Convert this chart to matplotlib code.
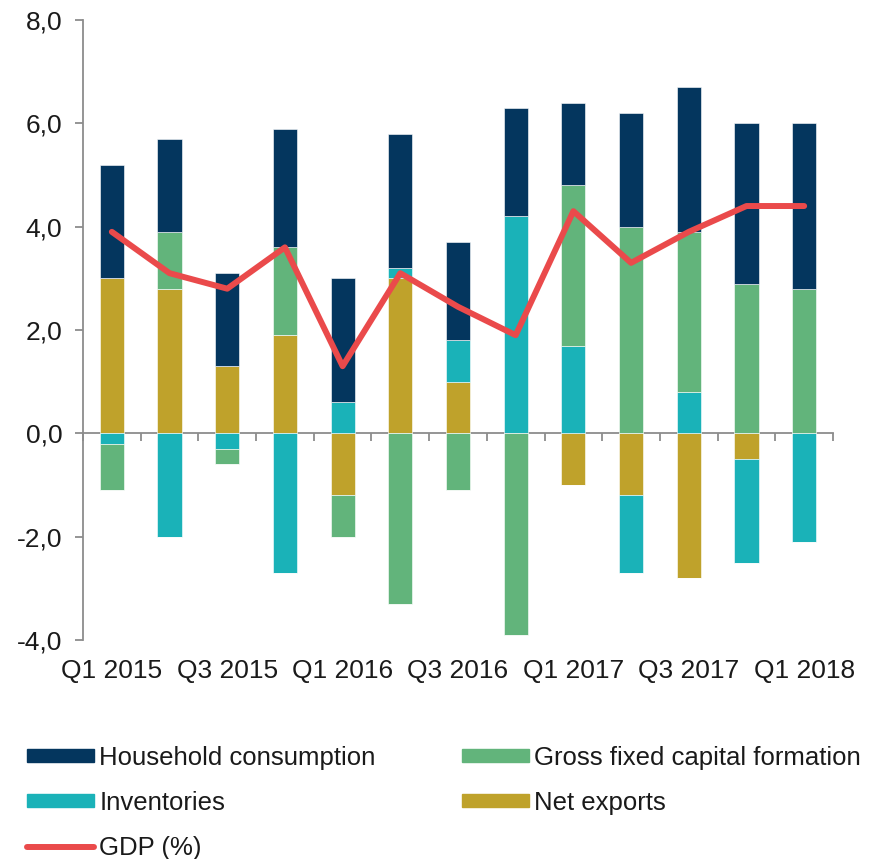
import matplotlib.pyplot as plt
import numpy as np
from matplotlib.patches import Patch
from matplotlib.lines import Line2D

plt.rcParams['font.family'] = ['Liberation Sans', 'DejaVu Sans']

# Contributions to GDP growth (percentage points), Q1 2015 - Q1 2018
quarters = ['Q1 2015', 'Q2 2015', 'Q3 2015', 'Q4 2015',
            'Q1 2016', 'Q2 2016', 'Q3 2016', 'Q4 2016',
            'Q1 2017', 'Q2 2017', 'Q3 2017', 'Q4 2017', 'Q1 2018']
household = [2.2, 1.8, 1.8, 2.3, 2.4, 2.6, 1.9, 2.1, 1.6, 2.2, 2.8, 3.1, 3.2]
gfcf = [-0.9, 1.1, -0.3, 1.7, -0.8, -3.3, -1.1, -3.9, 3.1, 4.0, 3.1, 2.9, 2.8]
inventories = [-0.2, -2.0, -0.3, -2.7, 0.6, 0.2, 0.8, 4.2, 1.7, -1.5, 0.8, -2.0, -2.1]
net_exports = [3.0, 2.8, 1.3, 1.9, -1.2, 3.0, 1.0, 0.0, -1.0, -1.2, -2.8, -0.5, 0.0]
gdp = [3.9, 3.1, 2.8, 3.6, 1.3, 3.1, 2.45, 1.9, 4.3, 3.3, 3.9, 4.4, 4.4]

c_house = '#04365E'
c_gfcf = '#62B47B'
c_inv = '#1AB2B8'
c_nx = '#BFA22B'
c_gdp = '#EA4A4B'
grey = '#8C8C8C'

fig = plt.figure(figsize=(8.84, 8.59), dpi=100)
ax = fig.add_axes([0.0939, 0.2549, 0.8484, 0.7218])

x = np.arange(len(quarters))
width = 0.42

# stack positives upward and negatives downward, same series order
pos_base = np.zeros(len(x))
neg_base = np.zeros(len(x))
for vals, col in [(net_exports, c_nx), (inventories, c_inv),
                  (gfcf, c_gfcf), (household, c_house)]:
    v = np.array(vals)
    pos = np.where(v > 0, v, 0)
    neg = np.where(v < 0, v, 0)
    ax.bar(x, pos, width, bottom=pos_base, color=col, edgecolor='white', linewidth=0.4, zorder=2)
    ax.bar(x, neg, width, bottom=neg_base, color=col, edgecolor='white', linewidth=0.4, zorder=2)
    pos_base += pos
    neg_base += neg

ax.plot(x, gdp, color=c_gdp, lw=4.3, solid_capstyle='round', solid_joinstyle='round', zorder=4)

ax.set_xlim(-0.5, len(x) - 0.5)
ax.set_ylim(-4, 8)
ax.set_yticks(np.arange(-4, 8.1, 2))
ax.set_yticklabels([f'{t:.1f}'.replace('.', ',') for t in np.arange(-4, 8.1, 2)])

for s in ['top', 'right', 'bottom']:
    ax.spines[s].set_visible(False)
ax.spines['left'].set_color(grey)
ax.spines['left'].set_linewidth(1.3)
ax.tick_params(axis='y', direction='out', length=6, width=1.3, color=grey,
               labelsize=19, pad=9, labelcolor='#1a1a1a')

ax.set_xticks(x[::2])
ax.set_xticklabels(quarters[::2])
ax.tick_params(axis='x', length=0, labelsize=19, pad=14, labelcolor='#1a1a1a')

# zero line with category boundary ticks
zero_ax = ax.secondary_xaxis(1 / 3)
zero_ax.set_xticks(np.arange(-0.5, len(x), 1.0))
zero_ax.set_xticklabels([])
zero_ax.spines['bottom'].set_color(grey)
zero_ax.spines['bottom'].set_linewidth(1.3)
zero_ax.tick_params(axis='x', direction='out', length=6, width=1.3, color=grey)

handles = [Patch(color=c_house, label='Household consumption'),
           Patch(color=c_inv, label='Inventories'),
           Line2D([], [], color=c_gdp, lw=4.3, solid_capstyle='round', label='GDP (%)'),
           Patch(color=c_gfcf, label='Gross fixed capital formation'),
           Patch(color=c_nx, label='Net exports')]
fig.legend(handles=handles, ncol=2, loc='upper left', bbox_to_anchor=(0.031, 0.132),
           frameon=False, fontsize=18.5, handlelength=2.6, handleheight=0.45,
           handletextpad=0.2, columnspacing=3.35, labelspacing=0.82,
           borderaxespad=0, borderpad=0, labelcolor='#1a1a1a')

fig.savefig('out.png', dpi=100)
